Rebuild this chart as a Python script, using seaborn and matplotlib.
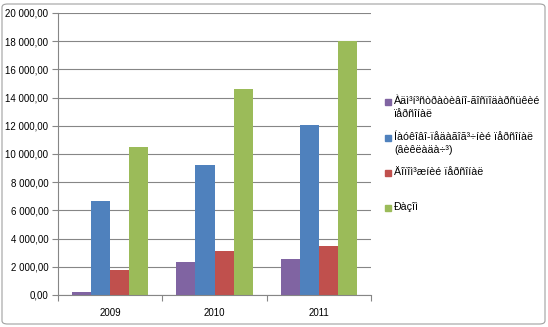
import matplotlib
matplotlib.use("Agg")
import matplotlib.pyplot as plt
import seaborn as sns
import pandas as pd
from matplotlib.patches import FancyBboxPatch, Rectangle
from matplotlib.ticker import FuncFormatter, FixedLocator

years = ["2009", "2010", "2011"]
series = [
    "Àäì³í³ñòðàòèâíî-ãîñïîäàðñüêèé\nïåðñîíàë",
    "Íàóêîâî-ïåäàãîã³÷íèé ïåðñîíàë\n(âèêëàäà÷³)",
    "Äîïîì³æíèé ïåðñîíàë",
    "Ðàçîì",
]
admin = [220, 2350, 2560]
teaching = [6700, 9200, 12050]
support = [1780, 3130, 3450]
total = [10500, 14600, 18000]
colors = ["#8064A2", "#4F81BD", "#C0504D", "#9BBB59"]
yticks = list(range(0, 20001, 2000))

rows = []
for name, vals in zip(series, [admin, teaching, support, total]):
    for y, v in zip(years, vals):
        rows.append({"year": y, "series": name, "value": v})
df = pd.DataFrame(rows)

sns.set_theme(style="white")
plt.rcParams["font.family"] = ["Liberation Sans", "DejaVu Sans"]

fig = plt.figure(figsize=(5.48, 3.27), dpi=100)
ax = fig.add_axes([58/548, 1-295/327, (371-58)/548, (295-13)/327])

sns.barplot(data=df, x="year", y="value", hue="series", hue_order=series,
            order=years, palette=colors, width=0.73, saturation=1,
            edgecolor="none", ax=ax, legend=False)

grid_c = "#868686"
ax.set_ylim(0, 20000)
ax.set_xlim(-0.5, 2.5)
ax.set_yticks(yticks)
ax.yaxis.set_major_formatter(FuncFormatter(lambda v, p: f"{v:,.2f}".replace(",", " ").replace(".", ",")))
ax.grid(axis="y", color=grid_c, linewidth=0.8)
ax.set_axisbelow(True)
for s in ["top", "right"]:
    ax.spines[s].set_visible(False)
for s in ["left", "bottom"]:
    ax.spines[s].set_color(grid_c)
    ax.spines[s].set_linewidth(0.8)
ax.set_xlabel("")
ax.set_ylabel("")
ax.tick_params(axis="y", which="major", left=True, length=4, color=grid_c, width=0.8,
               labelsize=7, pad=3)
ax.tick_params(axis="x", which="major", bottom=False, labelsize=7, pad=3)
ax.xaxis.set_minor_locator(FixedLocator([-0.5, 0.5, 1.5, 2.5]))
ax.tick_params(axis="x", which="minor", bottom=True, length=4, color=grid_c, width=0.8)
for t in ax.get_xticklabels() + ax.get_yticklabels():
    t.set_color("#000000")

# legend
ys = [102, 138, 173, 208]
for name, c, y in zip(series, colors, ys):
    fig.patches.append(Rectangle(((385)/548, 1-(y+3)/327), 6/548, 6/327,
                                 transform=fig.transFigure, color=c, figure=fig))
    fig.text(394/548, 1-(y-6)/327, name, fontsize=7.7, va="top", ha="left",
             linespacing=1.4, color="#000000")

# outer border
fig.patches.append(FancyBboxPatch((2/548, 3/327), 543/548, 320/327,
                                  boxstyle="round,pad=0,rounding_size=0.01",
                                  transform=fig.transFigure, fill=False,
                                  edgecolor="#A0A0A0", linewidth=0.8, figure=fig))

fig.savefig("out.png", dpi=100)
